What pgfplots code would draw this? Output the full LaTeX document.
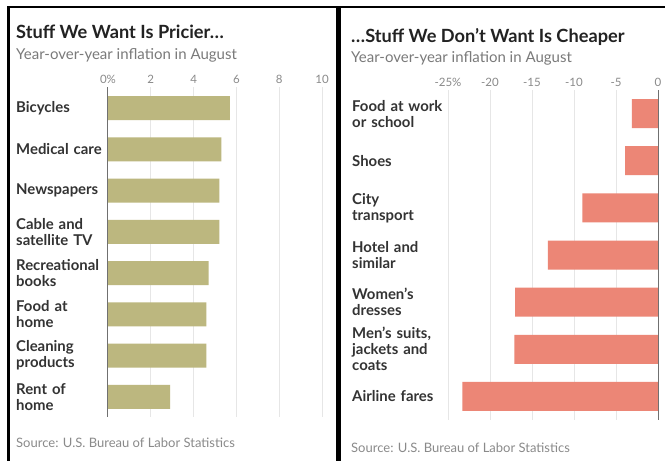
\documentclass[border=0pt]{standalone}
\usepackage{pgfplots}
\pgfplotsset{compat=1.18}
\usepackage{fontspec}
\setmainfont{Lato}
\definecolor{olivebar}{HTML}{BCB77F}
\definecolor{salmonbar}{HTML}{EC8676}
\definecolor{labelc}{HTML}{333333}
\definecolor{titlec}{HTML}{222222}
\definecolor{subc}{HTML}{7A7A7A}
\definecolor{tickc}{HTML}{8A8A8A}
\definecolor{gridc}{HTML}{E6E6E6}
\definecolor{zeroc}{HTML}{707070}

\pgfplotsset{
  panel/.style={
    scale only axis, anchor=south west,
    xbar, /pgf/bar shift=0pt,
    axis line style={draw=none},
    major tick length=0pt,
    xmajorgrids, grid style={gridc, line width=1pt},
    xticklabel pos=upper,
    xticklabel style={anchor=base, inner sep=0pt, yshift=4pt, text=tickc, font=\fontsize{11.5}{12}\selectfont},
    yticklabel style={anchor=west, inner sep=0pt, text width=92pt, align=left, text=labelc, font=\bfseries\fontsize{14.9}{16}\selectfont},
    clip=false,
  }
}

\begin{document}
\begin{tikzpicture}
\useasboundingbox (0pt,0pt) rectangle (665pt,461pt);
\fill[white] (0pt,0pt) rectangle (665pt,461pt);
% frame
\fill[black] (7pt,0pt) rectangle (10pt,455pt);
\fill[black] (7pt,452.5pt) rectangle (665pt,455pt);
\fill[black] (336pt,0pt) rectangle (341pt,455pt);

% left titles
\node[anchor=base west, inner sep=0, text=titlec, font=\bfseries\fontsize{18.2}{20}\selectfont] at (16pt,422pt) {Stuff We Want Is Pricier…};
\node[anchor=base west, inner sep=0, text=subc, font=\fontsize{15}{16}\selectfont] at (16pt,401pt) {Year-over-year inflation in August};
\node[anchor=base west, inner sep=0, text=tickc, font=\fontsize{13}{14}\selectfont] at (16pt,13pt) {Source: U.S. Bureau of Labor Statistics};

% right titles
\node[anchor=base west, inner sep=0, text=titlec, font=\bfseries\fontsize{18.2}{20}\selectfont] at (351pt,418pt) {…Stuff We Don’t Want Is Cheaper};
\node[anchor=base west, inner sep=0, text=subc, font=\fontsize{15}{16}\selectfont] at (351pt,398pt) {Year-over-year inflation in August};
\node[anchor=base west, inner sep=0, text=tickc, font=\fontsize{13}{14}\selectfont] at (351pt,8pt) {Source: U.S. Bureau of Labor Statistics};

% left panel
\begin{axis}[panel,
  at={(108pt,44pt)}, width=214pt, height=330pt,
  xmin=0, xmax=10, ymin=-0.49, ymax=7.51,
  bar width=24pt,
  xtick={0,2,4,6,8,10}, xticklabels={0\%,2,4,6,8,10},
  ytick={0,1,2,3,4,5,6,7},
  yticklabels={{Rent of\\home},{Cleaning\\products},{Food at\\home},{Recreational\\books},{Cable and\\satellite TV},{Newspapers},{Medical care},{Bicycles}},
  yticklabel style={xshift=-92pt},
]
\addplot[fill=olivebar, draw=none] coordinates {
(2.9,0) (4.6,1) (4.6,2) (4.7,3) (5.2,4) (5.2,5) (5.3,6) (5.7,7)};
\draw[zeroc, line width=1pt] (axis cs:0,-0.49) -- (axis cs:0,7.51);
\end{axis}

% right panel
\begin{axis}[panel,
  at={(448pt,41pt)}, width=210pt, height=330pt,
  xmin=-25, xmax=0, ymin=-0.5, ymax=6.5,
  bar width=29pt,
  xtick={-25,-20,-15,-10,-5,0}, xticklabels={-25\%,-20,-15,-10,-5,0},
  ytick={0,1,2,3,4,5,6},
  yticklabels={{Airline fares},{Men’s suits,\\jackets and\\coats},{Women’s\\dresses},{Hotel and\\similar},{City\\transport},{Shoes},{Food at work\\or school}},
  yticklabel style={xshift=-96pt},
]
\addplot[fill=salmonbar, draw=none] coordinates {
(-23.3,0) (-17.1,1) (-17.0,2) (-13.1,3) (-9.0,4) (-3.9,5) (-3.1,6)};
\draw[zeroc, line width=1pt] (axis cs:0,-0.5) -- (axis cs:0,6.5);
\end{axis}
\end{tikzpicture}
\end{document}
